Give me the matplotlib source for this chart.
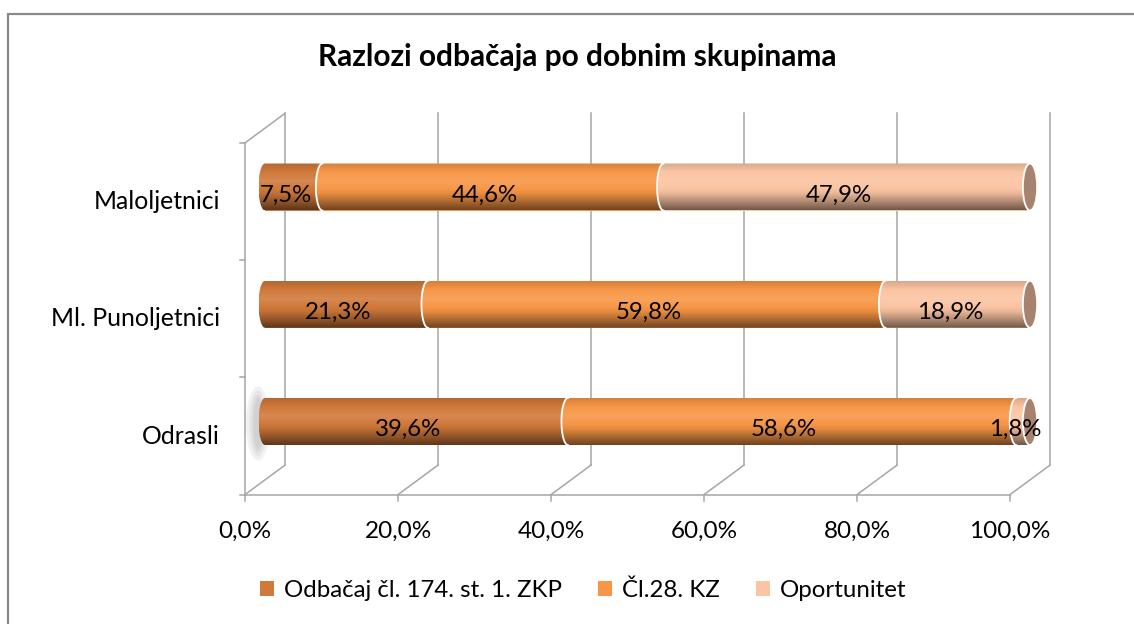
import numpy as np
import matplotlib
matplotlib.use('Agg')
import matplotlib.pyplot as plt
from matplotlib.patches import Polygon, Ellipse, Rectangle
from matplotlib.colors import to_rgb

# ---------------- data ----------------
categories = ['Odrasli', 'Ml. Punoljetnici', 'Maloljetnici']
series_names = ['Odbačaj čl. 174. st. 1. ZKP', 'Čl.28. KZ', 'Oportunitet']
odbacaj = [39.6, 21.3, 7.5]
cl28 = [58.6, 59.8, 44.6]
oportunitet = [1.8, 18.9, 47.9]
x_ticks = [0, 20, 40, 60, 80, 100]
x_tick_labels = ['0,0%', '20,0%', '40,0%', '60,0%', '80,0%', '100,0%']
title = 'Razlozi odbačaja po dobnim skupinama'

# ---------------- style ----------------
colors = ['#d0793a', '#f79646', '#fbc4a2']
cap_color = '#a7826f'
grid_c = '#a6a6a6'
FONT = 'Lato'
plt.rcParams['font.family'] = [FONT, 'DejaVu Sans']

W, H = 1134, 624
X0, XS = 265.0, 7.65     # pixel of 0 %, pixels per percent
Y0, YS = 421.5, 117.25   # pixel of first category centre, pixels per category

fig = plt.figure(figsize=(W / 100, H / 100), dpi=100)
ax = fig.add_axes([0, 0, 1, 1])
ax.set_xlim(-X0 / XS, (W - X0) / XS)
ax.set_ylim((Y0 - H) / YS, Y0 / YS)
ax.axis('off')

px = 1 / XS
py = 1 / YS
dxF, dyF = -20 * px, -14.5 * py   # front plane offset
dxB, dyB = 20 * px, 15 * py       # back plane offset
lw = 1.1
ncat = len(categories)
lo, hi = -0.5, ncat - 0.5
ypos = np.arange(ncat)

# outer border
fig.patches.append(Rectangle((8 / W, -0.2), 2, (H - 14) / H + 0.2, transform=fig.transFigure,
                             fill=False, edgecolor='#8a8a8a', lw=1.6))

# ---------------- 3D frame ----------------
for v in x_ticks:
    ax.plot([v + dxB, v + dxB], [lo + dyB, hi + dyB], color=grid_c, lw=lw, zorder=1)
    ax.plot([v + dxF, v + dxB], [lo + dyF, lo + dyB], color=grid_c, lw=lw, zorder=1)
    ax.plot([v + dxF, v + dxF], [lo + dyF, lo + dyF - 6 * py], color=grid_c, lw=lw, zorder=1)
ax.plot([x_ticks[0] + dxF, x_ticks[-1] + dxF], [lo + dyF, lo + dyF], color=grid_c, lw=lw, zorder=1)
ax.plot([dxF, dxF], [lo + dyF, hi + dyF], color=grid_c, lw=lw, zorder=1)
ax.plot([dxF, dxB], [hi + dyF, hi + dyB], color=grid_c, lw=lw, zorder=1)
for b in np.arange(lo, hi + 0.01, 1.0):
    ax.plot([dxF - 5 * px, dxF], [b + dyF, b + dyF], color=grid_c, lw=lw, zorder=1)

# ---------------- cylinders ----------------
h = 47 * py
ew = 13 * px


def shade(color, n=80):
    t = np.linspace(0, 1, n)
    kt = [0.0, 0.12, 0.35, 0.62, 0.82, 1.0]
    km = [0.45, 0.62, 0.93, 1.12, 1.0, 0.86]
    m = np.interp(t, kt, km)[:, None]
    c = np.array(to_rgb(color))[None, :]
    out = np.where(m <= 1, c * m, c + (1 - c) * (m - 1))
    return np.clip(out, 0, 1)[:, None, :]


def half_ellipse(x0, yc):
    th = np.linspace(np.pi / 2, 3 * np.pi / 2, 40)
    return x0 + ew / 2 * np.cos(th), yc + h / 2 * np.sin(th)


for i, (sw, sh) in enumerate([(24, 74), (18, 66), (13, 58), (9, 52)]):
    ax.add_patch(Ellipse((-7 * px, ypos[0] - 2 * py), sw * px, sh * py,
                         facecolor='#707070', edgecolor='none', alpha=0.09, zorder=1.5))

series = [odbacaj, cl28, oportunitet]
lefts = np.zeros(ncat)
handles = []
for si, (vals, col) in enumerate(zip(series, colors)):
    vals = np.array(vals)
    bars = ax.barh(ypos, vals, left=lefts, height=h, color=col, lw=0, zorder=2 + si * 0.1)
    handles.append(bars)
    img = shade(col)
    for k, (l, w) in enumerate(zip(lefts, vals)):
        ex, ey = half_ellipse(l, k)
        verts = list(zip(ex, ey)) + [(l + w, k - h / 2), (l + w, k + h / 2)]
        poly = Polygon(verts, closed=True, transform=ax.transData, facecolor='none', edgecolor='none')
        ax.add_patch(poly)
        im = ax.imshow(img, extent=(l - ew / 2, l + w, k - h / 2, k + h / 2), origin='lower',
                       aspect='auto', interpolation='bilinear', zorder=3 + si * 0.1)
        im.set_clip_path(poly)
        if si > 0:
            ax.plot(ex, ey, color='white', lw=1.3, zorder=3.05 + si * 0.1)
        txt = f'{vals[k]:.1f}'.replace('.', ',') + '%'
        ax.text(l + w / 2 - 8 * px, k - 8 * py, txt, ha='center', va='center',
                fontsize=17.3, color='black', zorder=6)
    lefts = lefts + vals

for k, tot in enumerate(lefts):
    ax.add_patch(Ellipse((tot, k), ew * 1.1, h, facecolor=cap_color, edgecolor='white',
                         lw=1.3, zorder=4))

# ---------------- axis texts ----------------
for v, lab in zip(x_ticks, x_tick_labels):
    ax.text(v + dxF, lo + dyF - 37 * py, lab, ha='center', va='center', fontsize=17.5)
for k, cat in enumerate(categories):
    ax.text(dxF - 25 * px, k + dyF, cat, ha='right', va='center', fontsize=17.8)

fig.text(577 / W, 1 - 57 / H, title, ha='center', va='center', fontsize=21.5, fontweight='bold')

ax.legend([hd[0] for hd in handles], series_names, loc='center', bbox_to_anchor=(583 / W, 1 - 590 / H),
          ncol=3, frameon=False, fontsize=17.3, handlelength=0.6, handleheight=0.6,
          handletextpad=0.4, columnspacing=1.5, borderaxespad=0)

fig.savefig('out.png', dpi=100, facecolor='white')
